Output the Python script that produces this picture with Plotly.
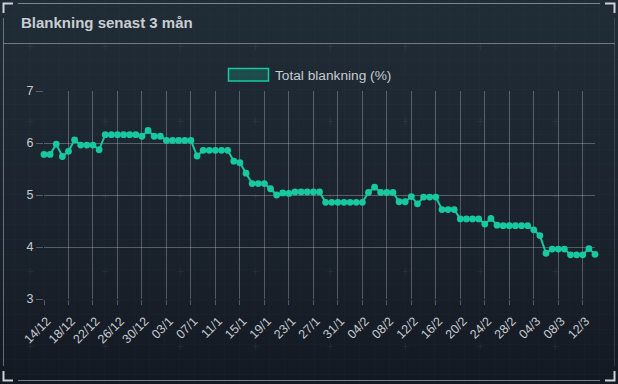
import base64
import pandas as pd
import plotly.graph_objects as go

# ---- data ----
start_date = "2024-12-14"
end_date = "2025-03-14"
dates = [f"{d.day:02d}/{d.month}" for d in pd.date_range(start_date, end_date, freq="D")]
values = [
    5.78, 5.78, 5.98, 5.74, 5.84, 6.06, 5.96, 5.96, 5.96, 5.87,
    6.16, 6.16, 6.16, 6.16, 6.16, 6.16, 6.13, 6.24, 6.13, 6.13,
    6.05, 6.05, 6.05, 6.05, 6.05, 5.75, 5.86, 5.86, 5.86, 5.86,
    5.86, 5.65, 5.62, 5.42, 5.22, 5.22, 5.22, 5.12, 5.00, 5.04,
    5.03, 5.06, 5.06, 5.06, 5.06, 5.06, 4.86, 4.86, 4.86, 4.86,
    4.86, 4.86, 4.86, 5.05, 5.15, 5.05, 5.05, 5.05, 4.87, 4.87,
    4.97, 4.83, 4.96, 4.96, 4.96, 4.72, 4.72, 4.72, 4.54, 4.54,
    4.54, 4.54, 4.44, 4.55, 4.42, 4.41, 4.41, 4.41, 4.41, 4.41,
    4.33, 4.22, 3.88, 3.96, 3.96, 3.96, 3.85, 3.85, 3.85, 3.97,
    3.86,
]
tick_labels = dates[::4]
y_ticks = [3, 4, 5, 6, 7]
series_name = "Total blankning (%)"
title_text = "Blankning senast 3 mån"

# ---- layout geometry ----
W, H = 618, 384
L, R, T, B = 44, 23, 91, 85
PW, PH = W - L - R, H - T - B

def px(x):
    return (x - L) / PW

def py(y):
    return (H - B - y) / PH

LINE = "#17c9a0"
GRID = "rgba(205,210,215,0.33)"
TXT = "#c6cbd0"
FONT = "Liberation Sans, Arial, Helvetica, sans-serif"

# background (decorative frame) as SVG image
crosses = ""
for cx in range(30, 618, 75):
    for cy in range(46, 384, 75):
        crosses += f"<path d='M{cx-3} {cy+0.5}H{cx+4}M{cx+0.5} {cy-3}V{cy+4}' stroke='#ffffff' stroke-opacity='0.045'/>"
svg = f"""<svg xmlns='http://www.w3.org/2000/svg' width='{W}' height='{H}' viewBox='0 0 {W} {H}'>
<defs>
<linearGradient id='g' x1='0' y1='0' x2='0' y2='1'>
<stop offset='0' stop-color='#202c36'/><stop offset='0.55' stop-color='#1b242e'/><stop offset='1' stop-color='#131923'/>
</linearGradient>
<pattern id='p' width='15' height='15' patternUnits='userSpaceOnUse'>
<path d='M15 0V15H0' fill='none' stroke='#ffffff' stroke-opacity='0.02'/>
</pattern>
</defs>
<rect width='{W}' height='{H}' fill='url(#g)'/>
<rect width='{W}' height='{H}' fill='url(#p)'/>
{crosses}
<path d='M18 3.5H600M18 380.5H600' stroke='#9aa4ab' stroke-opacity='0.75' fill='none'/>
<path d='M3.5 18V366' stroke='#9aa4ab' stroke-opacity='0.6' fill='none'/>
<path d='M614.5 18V366' stroke='#9aa4ab' stroke-opacity='0.2' fill='none'/>
<path d='M3 43.5H615' stroke='#8d989f' stroke-opacity='0.7' fill='none'/>
<path d='M3.5 13V3.5H13M605 3.5H614.5V13M3.5 371V380.5H13M605 380.5H614.5V371' stroke='#cdd2d6' stroke-width='2' fill='none'/>
</svg>"""
svg_uri = "data:image/svg+xml;base64," + base64.b64encode(svg.encode()).decode()

fig = go.Figure()
fig.add_trace(go.Scatter(
    x=dates, y=values, mode="lines+markers", name=series_name,
    line=dict(color=LINE, width=2),
    marker=dict(color=LINE, size=6.8),
    cliponaxis=False, showlegend=False,
))

fig.update_layout(
    width=W, height=H,
    margin=dict(l=L, r=R, t=T, b=B),
    paper_bgcolor="#1a232c", plot_bgcolor="rgba(0,0,0,0)",
    font=dict(family=FONT, color=TXT, size=12),
    showlegend=False,
    images=[dict(source=svg_uri, xref="paper", yref="paper",
                 x=px(0), y=py(0), sizex=W / PW, sizey=H / PH,
                 xanchor="left", yanchor="top", sizing="stretch", layer="below")],
    xaxis=dict(type="category", range=[0, len(dates) - 1],
               tickmode="array", tickvals=tick_labels, ticktext=tick_labels,
               tickangle=-45, showgrid=True, gridcolor=GRID, gridwidth=1,
               ticks="outside", ticklen=5, tickcolor=GRID,
               ticklabelstandoff=4, ticklabelshift=3,
               showline=False, zeroline=False,
               tickfont=dict(size=12.5, color=TXT, family=FONT)),
    yaxis=dict(range=[3, 7], tickvals=y_ticks, showgrid=True, gridcolor=GRID,
               ticks="outside", ticklen=7, tickcolor=GRID,
               showline=False, zeroline=False,
               tickfont=dict(size=12.5, color=TXT, family=FONT)),
    shapes=[dict(type="rect", xref="paper", yref="paper",
                 x0=px(228.5), x1=px(268.5), y0=py(68.5), y1=py(81),
                 fillcolor="rgba(23,201,160,0.22)", line=dict(color=LINE, width=1.5))],
    annotations=[
        dict(text=f"<b>{title_text}</b>", xref="paper", yref="paper",
             x=px(19), y=py(22), xanchor="left", yanchor="middle", showarrow=False,
             font=dict(size=15, color="#c9ced2", family=FONT)),
        dict(text=series_name, xref="paper", yref="paper",
             x=px(273), y=py(75), xanchor="left", yanchor="middle", showarrow=False,
             font=dict(size=13.7, color=TXT, family=FONT)),
    ],
)

fig.write_html("out.html", config={"displayModeBar": False},
               post_script="document.body.style.margin='0';")
